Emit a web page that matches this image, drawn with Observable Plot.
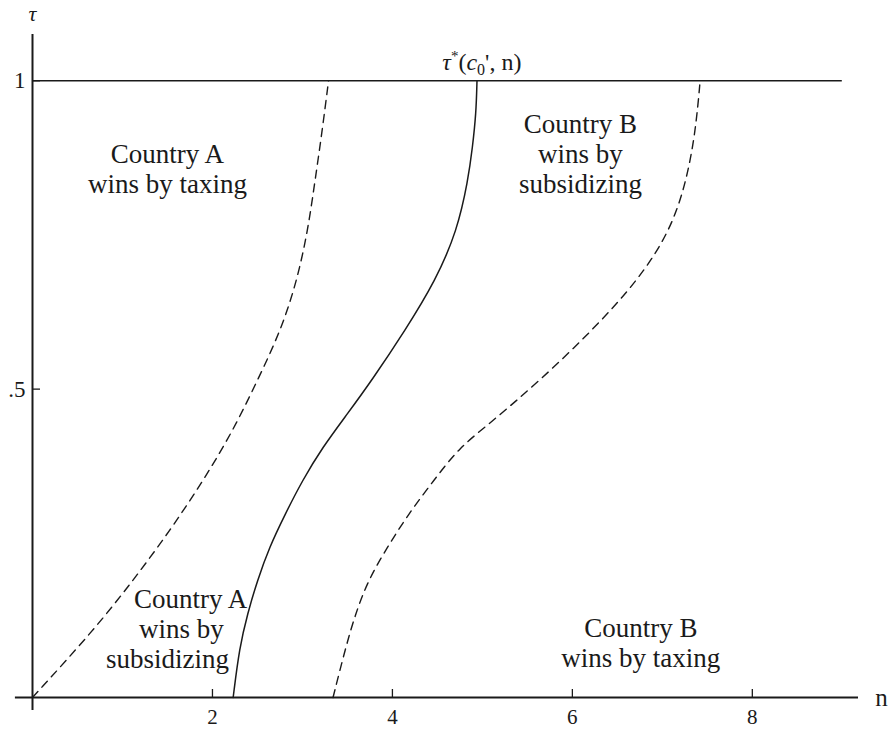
<!DOCTYPE html>
<html><head><meta charset="utf-8">
<script src="https://cdn.jsdelivr.net/npm/d3@7"></script>
<script src="https://cdn.jsdelivr.net/npm/@observablehq/plot@0.6"></script>
<style>body{margin:0;background:#fff;}</style>
</head><body><div id="chart"></div>
<script>
// Axis ticks
const xTicks = [2, 4, 6, 8];
const yTicks = [0.5, 1];
const yTickLabels = [".5", "1"];

// Left dashed boundary (Country A taxing / subsidizing)
const leftDashN = [0, 0.68, 1.12, 1.53, 1.90, 2.23, 2.50, 2.76, 2.94, 3.06, 3.14, 3.22, 3.29];
const leftDashT = [0, 0.109, 0.190, 0.271, 0.352, 0.433, 0.514, 0.595, 0.676, 0.757, 0.838, 0.919, 1.0];

// Solid curve tau*(c0', n)
const solidN = [2.23, 2.30, 2.39, 2.50, 2.63, 2.81, 3.00, 3.22, 3.50, 3.77, 4.14, 4.48, 4.72, 4.84, 4.89, 4.93, 4.94];
const solidT = [0, 0.081, 0.136, 0.190, 0.243, 0.298, 0.352, 0.405, 0.460, 0.514, 0.595, 0.676, 0.757, 0.838, 0.892, 0.947, 1.0];

// Right dashed boundary (Country B subsidizing / taxing)
const rightDashN = [3.34, 3.48, 3.59, 3.73, 3.94, 4.18, 4.46, 4.74, 5.08, 5.64, 6.22, 6.73, 7.09, 7.27, 7.37, 7.42];
const rightDashT = [0, 0.081, 0.136, 0.190, 0.243, 0.298, 0.352, 0.405, 0.444, 0.514, 0.595, 0.676, 0.757, 0.838, 0.919, 1.0];

// Upper bound line tau = 1
const topLineT = [1];
const topLineN = [0, 9];

// Region labels (one entry per line)
const labelText = ["Country A", "wins by taxing",
                   "Country B", "wins by", "subsidizing",
                   "Country A", "wins by", "subsidizing",
                   "Country B", "wins by taxing"];
const labelN = [1.50, 1.50, 6.09, 6.09, 6.09, 1.756, 1.655, 1.50, 6.76, 6.76];
const labelT = [0.881, 0.832, 0.930, 0.881, 0.832, 0.159, 0.111, 0.062, 0.112, 0.063];

// Axis name labels
const tauLabel = {s: "τ", n: 0, t: 1.108};
const nLabel = {s: "n", n: 9.435, t: 0};

// Curve label tau*(c0', n)
const curveLabelN = 5.0;
const curveLabelT = 1;

const font = "'Liberation Serif', 'Times New Roman', Times, serif";
const ink = "#1a1a1a";
const rows = (ns, ts) => ns.map((n, i) => ({n, t: ts[i]}));
const labels = labelText.map((s, i) => ({s, n: labelN[i], t: labelT[i]}));

const curveLabel = (index, scales) => {
  const ns = "http://www.w3.org/2000/svg";
  const t = document.createElementNS(ns, "text");
  t.setAttribute("x", scales.x(curveLabelN));
  t.setAttribute("y", scales.y(curveLabelT) - 10);
  t.setAttribute("text-anchor", "middle");
  t.setAttribute("fill", ink);
  t.setAttribute("style", "font-size:24px;font-family:" + font);
  t.innerHTML = '<tspan font-style="italic">τ</tspan><tspan dy="-9" style="font-size:15px">*</tspan><tspan dy="9">(</tspan><tspan font-style="italic">c</tspan><tspan dy="5" style="font-size:16px">0</tspan><tspan dy="-5">\', n)</tspan>';
  return t;
};

const chart = Plot.plot({
  width: 889,
  height: 729,
  marginLeft: 32,
  marginRight: 31,
  marginTop: 34,
  marginBottom: 32,
  x: {domain: [0, 9.18]},
  y: {domain: [0, 1.075]},
  style: {fontFamily: font, fontSize: "21px", background: "white", color: ink},
  marks: [
    Plot.ruleY([0], {x1: -0.19, x2: 9.18, stroke: ink, strokeWidth: 2}),
    Plot.ruleX([0], {y1: -0.021, y2: 1.075, stroke: ink, strokeWidth: 2}),
    Plot.ruleY(topLineT, {x1: topLineN[0], x2: topLineN[1], stroke: ink, strokeWidth: 1.3}),
    Plot.axisX({ticks: xTicks, tickSize: -8, tickPadding: 20, label: null, fontSize: 21, stroke: ink, strokeWidth: 1.3, fill: ink}),
    Plot.axisY({ticks: yTicks, tickSize: -8, tickPadding: 15, label: null, fontSize: 23, stroke: ink, strokeWidth: 1.3, fill: ink,
                tickFormat: (d) => yTickLabels[yTicks.indexOf(d)]}),
    Plot.line(rows(leftDashN, leftDashT), {x: "n", y: "t", curve: "basis", stroke: ink, strokeWidth: 1.4, strokeDasharray: "8,6"}),
    Plot.line(rows(solidN, solidT), {x: "n", y: "t", curve: "basis", stroke: ink, strokeWidth: 1.5}),
    Plot.line(rows(rightDashN, rightDashT), {x: "n", y: "t", curve: "basis", stroke: ink, strokeWidth: 1.4, strokeDasharray: "8,6"}),
    Plot.text(labels, {x: "n", y: "t", text: "s", fontSize: 27, fill: ink, lineAnchor: "middle", textAnchor: "middle"}),
    Plot.text([tauLabel], {x: "n", y: "t", text: "s", fontSize: 22, fontStyle: "italic", fill: ink, lineAnchor: "middle", textAnchor: "middle"}),
    Plot.text([nLabel], {x: "n", y: "t", text: "s", fontSize: 25, fill: ink, lineAnchor: "middle", textAnchor: "middle"}),
    curveLabel
  ]
});
document.getElementById("chart").appendChild(chart);
</script>
</body></html>
